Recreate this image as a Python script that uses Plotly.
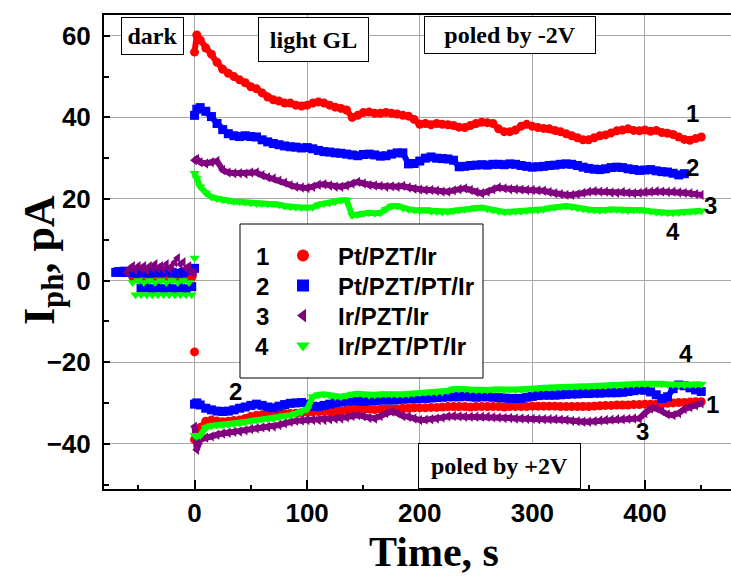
import plotly.graph_objects as go

# ---------------- data ----------------
t_dark = [-70, -67.5, -65, -62.5, -60, -57.5, -55, -52.5, -50, -47.5, -45, -42.5, -40, -37.5,
          -35, -32.5, -30, -27.5, -25, -22.5, -20, -17.5, -15, -12.5, -10, -7.5, -5, -2.5, 0]
t_light = [0, 2] + list(range(5, 451, 5))

names = ["Pt/PZT/Ir", "Pt/PZT/PT/Ir", "Ir/PZT/Ir", "Ir/PZT/PT/Ir"]
numbers = ["1", "2", "3", "4"]

red_dark = [None, None, None, None, None, None, 1, 0.5, 1, 0.5, 1, 0.5, 1, 0.5,
            1, 0.5, 1, 0.5, 1, 0.5, 1, 0.5, 1, 0.5, 1, 0.5, 1, 0.8, -17.5]
blue_dark = [2, 2.2, 2, 2.3, 2, 2.2, 2, 1.8, 2, -1.8, 2, -1.8, 1.8, -2,
             2, -1.8, 2, -2, 2.2, -1.8, 2, -2, 1.8, -1.8, 2, -2, 2.5, -1.5, 3]
purple_dark = [None, None, None, None, 2, 3, 3.5, 2.5, 3.5, 3, 3.5, 2.5, 3.5, 3,
               4, 3, 3.5, 2.8, 4, 3, 3.5, 4.5, 5.5, 4, 4.5, 3, 3.5, 2, 2]
green_dark = [None, None, None, None, None, None, -0.5, -3.5, 0, -3.5, -0.5, -3.5, 0, -3.5,
              -0.5, -3.5, 0, -3.5, -0.5, -3.5, 0, -3.5, -0.5, -3.5, 0, -3.5, -0.5, -3.5, 5.5]

red_neg2V = [56, 60.2, 59, 57, 55.5, 53.5, 51.8, 50.8, 50, 49.2,
             48.5, 47.5, 47, 46, 45, 44.3, 44, 43.5, 43.5, 43,
             42.8, 43, 43.5, 43.8, 43.5, 43, 42.5, 42.2, 41.8, 40,
             40.5, 41.2, 41.3, 41, 41, 41.2, 41, 40.8, 40.5, 40.3,
             39.5, 38.3, 38.5, 38.2, 38.5, 38.3, 38.2, 38, 37.6, 37.5,
             38, 38.5, 38.8, 38.7, 38.5, 37.2, 36.5, 36.5, 36.9, 37.8,
             38.3, 37.8, 37.5, 37.3, 37.2, 36.8, 36.5, 36, 35.5, 35,
             34.5, 34.5, 35, 35.5, 35.7, 36.2, 36.7, 36.9, 37.2, 36.8,
             36.7, 36.9, 36.6, 36.8, 36.3, 36.1, 35.8, 35.2, 34.6, 34.4,
             34.8, 35.2]
blue_neg2V = [40.5, 42, 42.4, 41.5, 40.2, 38.5, 37, 36, 35.5, 35.3,
              35.5, 35.3, 35.2, 34.5, 34, 33.6, 33.3, 33, 32.8, 32.7,
              32.5, 32.6, 32.3, 31.9, 31.6, 31.5, 31.3, 31.2, 31, 30.8,
              30.6, 30.9, 31, 30.8, 30.5, 30.6, 31, 31.3, 31.3, 28.6,
              28.7, 29.3, 30, 30.3, 30, 29.9, 29.8, 29.5, 27.9, 28,
              28.2, 28.3, 28.4, 28.3, 28.5, 28.5, 28.4, 28.6, 28.5, 28.2,
              28, 27.8, 27.9, 28, 28.2, 28.3, 28.5, 28.6, 28.5, 28.2,
              27.8, 27.5, 27.3, 27.2, 27.4, 27.7, 27.8, 27.7, 27.4, 27.2,
              27, 27.1, 27.2, 26.9, 26.7, 26.6, 26.3, 25.9, 26.2, None,
              None, None]
purple_neg2V = [29.5, 29.8, 29, 28.7, 29, 29.3, 27.1, 26.5, 26.3, 26.3,
                26.2, 26.5, 26.5, 25.8, 25.3, 25, 24.5, 24, 23.4, 23,
                22.8, 22.7, 23, 23.5, 23.6, 23.3, 23, 23, 23.3, 23.8,
                24.2, 23.8, 23.4, 23.3, 23.2, 23, 23.1, 23, 23.2, 22.8,
                22.5, 22.3, 22.2, 22.2, 22, 21.8, 21.8, 22.1, 22.4, 22.6,
                22.2, 21.7, 21.4, 21.8, 22.4, 22.8, 22.6, 22.4, 22.4, 22.3,
                22.2, 22.2, 22.1, 22, 21.7, 21.4, 21.2, 21, 21, 21.2,
                21.5, 21.8, 21.9, 21.8, 21.8, 21.6, 21.5, 21.7, 21.5, 21.4,
                21.5, 21.7, 21.8, 21.9, 21.8, 21.7, 21.8, 21.6, 21.5, 21.4,
                21.2, 21]
green_neg2V = [26.3, 25, 23, 21.5, 20.5, 20.1, 19.8, 19.6, 19.4, 19.3,
               19.2, 19, 18.9, 18.9, 18.8, 18.9, 18.6, 18.3, 18.1, 18,
               17.9, 17.9, 18, 18.6, 18.9, 19, 19.4, 19.7, 19.7, 16,
               16.2, 16.5, 16.6, 16.5, 16.6, 17.5, 18.3, 18.3, 17.8, 17.5,
               17.3, 17.2, 17.4, 17, 16.9, 16.8, 16.9, 17.1, 17.3, 17.5,
               17.7, 17.9, 17.9, 17.6, 17.3, 17, 16.8, 16.9, 16.9, 17,
               17.2, 17.3, 17.3, 17.5, 17.8, 18, 18.2, 18.3, 18.1, 17.8,
               17.6, 17.4, 17.3, 17.2, 17.3, 17.5, 17.5, 17.3, 17.2, 17.3,
               17.4, 17.2, 17, 16.8, 16.7, 16.6, 16.6, 16.7, 16.8, 16.9,
               17, 17.1]

red_pos2V = [-39, -38, -36, -34.5, -34.2, -34.4, -34.6, -34.5, -34.3, -34.2,
             -33.8, -33.3, -33, -32.9, -32.8, -32.8, -32.7, -32.6, -32.6, -32.5,
             -32.4, -32.3, -32.2, -32.1, -32.1, -32.1, -32, -32, -31.8, -31.6,
             -31.5, -31.5, -31.5, -31.6, -31.5, -31.5, -31.5, -31.4, -31.3, -31.3,
             -31.2, -31.2, -31.2, -31.1, -31.1, -31, -30.9, -30.9, -30.9, -30.9,
             -31, -30.9, -30.9, -30.9, -30.9, -30.9, -31, -30.9, -30.9, -30.9,
             -30.9, -30.8, -30.8, -30.8, -30.8, -30.8, -30.9, -30.9, -30.9, -30.9,
             -30.9, -30.9, -30.8, -30.7, -30.6, -30.6, -30.5, -30.5, -30.5, -30.4,
             -30.4, -30.3, -30.3, -30.3, -30.2, -30.1, -30, -29.9, -29.9, -29.8,
             -29.7, -29.7]
blue_pos2V = [-30.3, -30, -30.5, -31.3, -31.7, -32, -32.1, -32, -31.7, -31.3,
              -31, -30.6, -30.3, -30.6, -31, -31.2, -30.8, -30.4, -30.1, -30,
              -29.9, -30.3, -30.8, -30.9, -30.6, -30.3, -30, -29.8, -29.6, -29.5,
              -29.5, -29.6, -29.5, -29.4, -29.3, -29.3, -29.3, -29.2, -29.1, -29,
              -29, -28.9, -28.9, -28.8, -28.7, -28.6, -28.5, -28.5, -28.5, -28.4,
              -28.5, -28.6, -28.5, -28.5, -28.6, -28.7, -28.8, -28.9, -28.9, -28.9,
              -28.6, -28.4, -28.2, -28.1, -28.1, -28.1, -28, -27.9, -27.8, -27.8,
              -27.7, -27.7, -27.6, -27.6, -27.5, -27.5, -27.5, -27.4, -27.2, -27,
              -26.8, -26.9, -27.3, -28, -28.9, -28.5, -26.5, -25.6, -25.8, -26.3,
              -26.8, -27.2]
purple_pos2V = [-35.8, -41.5, -39, -38.5, -38.2, -37.8, -37.5, -37.3, -37.1, -37,
                -36.7, -36.4, -36.2, -36, -35.9, -35.8, -35.4, -35, -34.6, -34.4,
                -34.3, -34.2, -34.2, -34.2, -34.2, -34, -33.9, -33.8, -33.5, -33.2,
                -33, -33.3, -33.7, -33.8, -33.2, -32.5, -32.1, -32.5, -33.2, -33.4,
                -33.8, -34.2, -34.1, -34, -33.8, -33.6, -33.3, -33.2, -33.3, -33.4,
                -33.4, -33.4, -33.4, -33.4, -33.5, -33.6, -33.7, -33.7, -33.8, -33.8,
                -33.9, -33.9, -34, -34, -34, -34, -34.1, -34.2, -34.4, -34.5,
                -34.6, -34.6, -34.5, -34.3, -34.2, -34.1, -34, -34, -33.9, -33.8,
                -33.8, -32.5, -31.4, -31.3, -32, -32.8, -33, -32.5, -31.5, -31,
                -30.6, -30.1]
green_pos2V = [-37.9, -38.2, -38, -36, -35.6, -35.5, -35.4, -35.3, -35.1, -35,
               -34.7, -34.4, -34.2, -34, -33.9, -33.8, -33.5, -33.2, -33, -32.6,
               -32.2, -31.5, -28.5, -28, -27.9, -28.2, -28.4, -28.5, -28.2, -27.8,
               -27.7, -27.9, -28.1, -28, -27.9, -27.8, -27.9, -27.9, -27.9, -27.8,
               -27.6, -27.5, -27.4, -27.4, -27.4, -27.3, -27, -26.6, -26.5, -26.6,
               -26.7, -26.8, -26.8, -26.8, -26.7, -26.6, -26.7, -26.7, -26.7, -26.7,
               -26.6, -26.5, -26.4, -26.3, -26.2, -26.2, -26.1, -26, -26, -25.9,
               -25.9, -25.9, -25.8, -25.7, -25.7, -25.6, -25.6, -25.6, -25.5, -25.4,
               -25.3, -25.3, -25.2, -25.2, -25.3, -25.4, -25.5, -25.6, -25.6, -25.5,
               -25.4, -25.4]

# curve number labels (time, value)
label_text = ["1", "2", "3", "4", "4", "1", "3", "2"]
label_t = [442, 442, 458, 425, 436, 460, 398, 36]
label_v = [41, 27.6, 18.3, 12.1, -17.9, -30.3, -37.0, -27.2]

x_ticks = [0, 100, 200, 300, 400]
y_ticks = [-40, -20, 0, 20, 40, 60]

# ---------------- styling ----------------
colors = ["#ff0000", "#0000ff", "#800080", "#00ff00"]
symbols = ["circle", "square", "triangle-left", "triangle-down"]
dark_sets = [red_dark, blue_dark, purple_dark, green_dark]
neg_sets = [red_neg2V, blue_neg2V, purple_neg2V, green_neg2V]
pos_sets = [red_pos2V, blue_pos2V, purple_pos2V, green_pos2V]

SANS = "Liberation Sans, Arial, sans-serif"
SERIF = "Liberation Serif, Times New Roman, serif"

L, R, T, B = 104, 731, 15, 489
W, H = 731, 576
LEG_ROWS = [256, 286, 316, 346]


def px(xp):
    return (xp - L) / (R - L)


def py(yp):
    return (B - yp) / (B - T)


legend_ids = ["legend", "legend2", "legend3", "legend4"]

fig = go.Figure()
for i in range(4):
    fig.add_trace(go.Scatter(
        x=t_dark, y=dark_sets[i],
        mode="markers", name=names[i], showlegend=True, legend=legend_ids[i],
        marker=dict(color=colors[i], symbol=symbols[i], size=9, line=dict(width=0)),
    ))
    fig.add_trace(go.Scatter(
        x=t_light + [None] + t_light,
        y=neg_sets[i] + [None] + pos_sets[i],
        mode="lines+markers", name=names[i], showlegend=False,
        line=dict(color=colors[i], width=6),
        marker=dict(color=colors[i], symbol=symbols[i], size=9, line=dict(width=0)),
    ))

annotations = []
for txt, tt, vv in zip(label_text, label_t, label_v):
    annotations.append(dict(x=tt, y=vv, xref="x", yref="y", text=txt, showarrow=False,
                            xanchor="center", yanchor="middle",
                            font=dict(family=SANS, size=24, color="black", weight="bold")))

boxes = [("dark", 121, 184, 17, 55), ("light GL", 258, 369, 17, 62),
         ("poled by -2V", 424, 596, 16, 54), ("poled by +2V", 418, 581, 443, 489)]
for txt, x0, x1, y0, y1 in boxes:
    annotations.append(dict(x=px((x0 + x1) / 2), y=py((y0 + y1) / 2), xref="paper", yref="paper",
                            xanchor="center", yanchor="middle",
                            text=txt, showarrow=False, width=x1 - x0 - 2, height=y1 - y0 - 2,
                            borderpad=0, borderwidth=1, bordercolor="black", bgcolor="white",
                            font=dict(family=SERIF, size=24, color="black", weight="bold")))

# legend numbers
for k, num in enumerate(numbers):
    annotations.append(dict(x=px(262), y=py(LEG_ROWS[k]), xref="paper", yref="paper",
                            xanchor="center", yanchor="middle",
                            text=num, showarrow=False,
                            font=dict(family=SANS, size=24, color="black", weight="bold")))

# axis titles
annotations.append(dict(x=px(434), y=py(552), xref="paper", yref="paper", text="Time, s",
                        xanchor="center", yanchor="middle", showarrow=False,
                        font=dict(family=SERIF, size=42, color="black", weight="bold")))
annotations.append(dict(x=px(42), y=py(260), xref="paper", yref="paper", text="I<sub>ph</sub>, pA",
                        xanchor="center", yanchor="middle", textangle=-90, showarrow=False,
                        font=dict(family=SERIF, size=44, color="black", weight="bold")))

shapes = [dict(type="rect", xref="paper", yref="paper",
               x0=px(240), x1=px(483), y0=py(378), y1=py(224),
               fillcolor="white", line=dict(color="black", width=1), layer="above")]

legend_style = dict(xanchor="left", yanchor="middle", bgcolor="rgba(0,0,0,0)", borderwidth=0,
                    font=dict(family=SANS, size=24, color="black", weight="bold"),
                    itemwidth=60, indentation=22, itemsizing="constant")

fig.update_layout(
    width=W, height=H,
    margin=dict(l=L, r=W - R, t=T, b=H - B, pad=0),
    paper_bgcolor="white", plot_bgcolor="white",
    showlegend=True,
    annotations=annotations,
    shapes=shapes,
    xaxis=dict(range=[-80.4, 476.4], tickvals=x_ticks, ticks="inside", ticklen=9, tickwidth=1.5,
               tickcolor="black", showgrid=True, gridcolor="#a8a8a8", gridwidth=1.2,
               zeroline=False, showline=True, linecolor="black", linewidth=2, mirror=True,
               minor=dict(dtick=50, tick0=0, ticks="inside", ticklen=4, tickcolor="black", showgrid=False),
               tickfont=dict(family=SANS, size=26, color="black", weight="bold")),
    yaxis=dict(range=[-51.1, 65.1], tickvals=y_ticks, ticks="inside", ticklen=6, tickwidth=1.5,
               tickcolor="black", showgrid=True, gridcolor="#a8a8a8", gridwidth=1.2,
               zeroline=False, showline=True, linecolor="black", linewidth=2, mirror=False,
               minor=dict(dtick=10, tick0=0, ticks="inside", ticklen=5, tickcolor="black", showgrid=False),
               ticklabelstandoff=6,
               tickfont=dict(family=SANS, size=26, color="black", weight="bold")),
)
for k, lid in enumerate(legend_ids):
    fig.update_layout({lid: dict(x=px(246), y=py(LEG_ROWS[k]), **legend_style)})

fig.write_html("out.html")
